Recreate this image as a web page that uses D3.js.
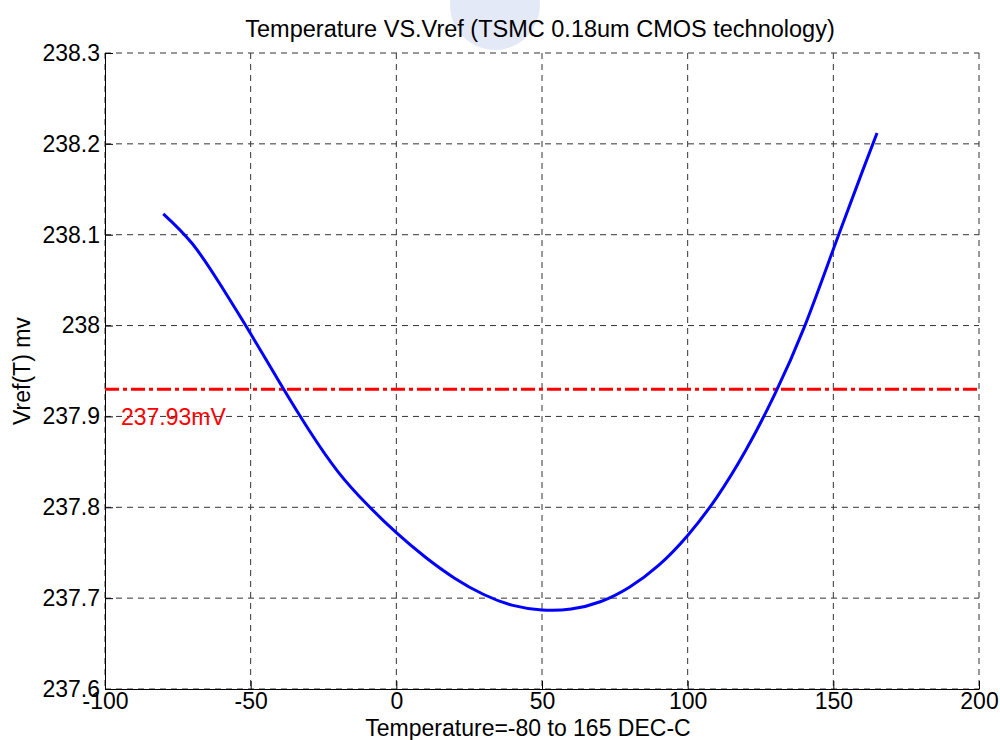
<!DOCTYPE html>
<html>
<head>
<meta charset="utf-8">
<script src="https://cdn.jsdelivr.net/npm/d3@7"></script>
<style>
  body { margin: 0; background: #fff; }
  svg text { font-family: Arial, "Liberation Sans", sans-serif; }
</style>
</head>
<body>
<script>
// data
var temps = [-80, -70, -60, -50, -40, -30, -20, -10, 0, 10, 20, 30, 40, 50,
             60, 70, 80, 90, 100, 110, 120, 130, 140, 150, 160, 165];
var vref = [238.123, 238.090, 238.043, 237.991, 237.937, 237.885, 237.839, 237.803,
            237.772, 237.745, 237.722, 237.704, 237.692, 237.687, 237.688, 237.696,
            237.712, 237.736, 237.769, 237.811, 237.863, 237.925, 237.998, 238.084,
            238.170, 238.212];
var xTicks = [-100, -50, 0, 50, 100, 150, 200];
var yTicks = [237.6, 237.7, 237.8, 237.9, 238, 238.1, 238.2, 238.3];
var refLevel = 237.93;
var refLabel = '237.93mV';

// layout
var W = 1000, H = 740,
    plotL = 105, plotR = 979, plotT = 53, plotB = 689,
    fs = 23;

var svg = d3.select('body').append('svg')
    .attr('width', W)
    .attr('height', H);

var x = d3.scaleLinear().domain([-100, 200]).range([plotL, plotR]);
var y = d3.scaleLinear().domain([237.6, 238.3]).range([plotB, plotT]);

// faint watermark behind the title
var wm = svg.append('g').attr('opacity', 0.28);
wm.append('path')
    .attr('d', d3.arc()({innerRadius: 105, outerRadius: 135, startAngle: -1.95, endAngle: 1.95}))
    .attr('transform', 'translate(495,-60)')
    .attr('fill', '#6f8fd6');
wm.append('path')
    .attr('d', d3.arc()({innerRadius: 0, outerRadius: 45, startAngle: 0, endAngle: 2 * Math.PI}))
    .attr('transform', 'translate(495,5)')
    .attr('fill', '#9fb3e3');

// grid
var grid = svg.append('g')
    .attr('stroke', '#333')
    .attr('stroke-width', 1)
    .attr('stroke-dasharray', '6,5');
grid.selectAll('.gx').data(xTicks).enter().append('line')
    .attr('x1', function(d) { return x(d); })
    .attr('x2', function(d) { return x(d); })
    .attr('y1', plotT).attr('y2', plotB);
grid.selectAll('.gy').data(yTicks).enter().append('line')
    .attr('y1', function(d) { return y(d); })
    .attr('y2', function(d) { return y(d); })
    .attr('x1', plotL).attr('x2', plotR);

// axes (left and bottom only, ticks inward)
var xAxis = d3.axisBottom(x).tickValues(xTicks).tickSizeInner(-8).tickSizeOuter(0).tickPadding(10)
    .tickFormat(function(d) { return String(d); });
var yAxis = d3.axisLeft(y).tickValues(yTicks).tickSizeInner(-8).tickSizeOuter(0).tickPadding(5)
    .tickFormat(function(d) { return String(+d.toFixed(1)); });

var gx = svg.append('g').attr('transform', 'translate(0,' + plotB + ')').call(xAxis);
var gy = svg.append('g').attr('transform', 'translate(' + plotL + ',0)').call(yAxis);
[gx, gy].forEach(function(g) {
  g.selectAll('text').attr('font-size', fs).attr('fill', '#000')
    .attr('font-family', 'Arial, "Liberation Sans", sans-serif');
  g.selectAll('line, path').attr('stroke', '#000');
});
gx.selectAll('.tick text').attr('dy', '0.45em');

// reference line
svg.append('line')
    .attr('x1', plotL).attr('x2', plotR)
    .attr('y1', y(refLevel)).attr('y2', y(refLevel))
    .attr('stroke', '#ff0000')
    .attr('stroke-width', 3)
    .attr('stroke-dasharray', '14,4,4,4');

svg.append('text')
    .attr('x', 121).attr('y', 425)
    .attr('font-size', 23)
    .attr('fill', '#ff0000')
    .text(refLabel);

// curve
var line = d3.line()
    .x(function(d, i) { return x(temps[i]); })
    .y(function(d) { return y(d); })
    .curve(d3.curveNatural);

svg.append('path')
    .datum(vref)
    .attr('d', line)
    .attr('fill', 'none')
    .attr('stroke', '#0000ff')
    .attr('stroke-width', 3);

// titles
svg.append('text')
    .attr('x', 540).attr('y', 37)
    .attr('text-anchor', 'middle')
    .attr('font-size', 23.5)
    .text('Temperature VS.Vref (TSMC 0.18um CMOS technology)');

svg.append('text')
    .attr('x', 528).attr('y', 736)
    .attr('text-anchor', 'middle')
    .attr('font-size', fs)
    .text('Temperature=-80 to 165 DEC-C');

svg.append('text')
    .attr('transform', 'translate(30,371) rotate(-90)')
    .attr('text-anchor', 'middle')
    .attr('font-size', fs)
    .text('Vref(T) mv');
</script>
</body>
</html>
